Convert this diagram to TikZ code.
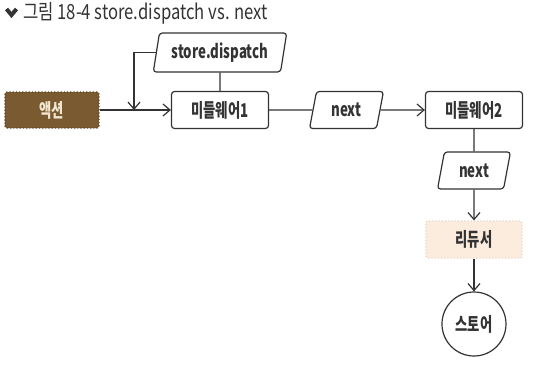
\documentclass[tikz,border=0pt]{standalone}
\usepackage{fontspec}
\setmainfont{Noto Sans CJK KR}[FakeStretch=0.8]
\newfontfamily\boxfam{Noto Sans CJK KR}[FakeStretch=0.7]
\usetikzlibrary{arrows.meta,shapes.geometric}
\definecolor{ink}{HTML}{333333}
\definecolor{actbrown}{HTML}{7A5A30}
\definecolor{actedge}{HTML}{5C421F}
\definecolor{actfont}{HTML}{F3E6D0}
\definecolor{redfill}{HTML}{FBECDE}
\definecolor{rededge}{HTML}{E8D5C0}
\newcommand{\boxfont}{\boxfam\fontsize{9.5}{11}\selectfont\bfseries}
\tikzset{
  box/.style={rectangle, rounded corners=1.5pt, draw=ink, line width=0.6pt, fill=white,
              minimum width=48.5pt, minimum height=18.5pt, inner sep=0pt, font=\boxfont, text=ink},
  actbox/.style={box, rounded corners=1pt, draw=actedge, densely dotted, fill=actbrown, text=actfont,
                 minimum width=47pt, minimum height=18pt},
  redbox/.style={box, rounded corners=1pt, draw=rededge, densely dotted, fill=redfill},
  para/.style={trapezium, trapezium left angle=76, trapezium right angle=104, trapezium stretches=true,
               rounded corners=1.5pt, draw=ink, line width=0.6pt, fill=white,
               minimum height=18.5pt, inner sep=0pt, font=\boxfont, text=ink},
  storenode/.style={circle, draw=ink, line width=0.6pt, minimum size=32pt, inner sep=0pt,
                    font=\boxfont, text=ink},
  link/.style={draw=ink, line width=0.6pt},
  arr/.style={link, -{Straight Barb[length=3.5pt,width=6pt]}},
}
\begin{document}
\begin{tikzpicture}[x=0.5pt,y=-0.5pt]
  \useasboundingbox (0,0) rectangle (538,365);
  \draw[ink, line width=2pt] (6.5,9) -- (11.5,15) -- (16.5,9);
  \node[anchor=west, inner sep=0pt, text=ink, font=\fontsize{10.4}{12}\selectfont] (title) at (23,13)
    {그림 18-4 store.dispatch vs. next};

  \node[actbox] (act) at (52,110) {액션};
  \node[box] (mw1) at (220,110) {미들웨어1};
  \node[para, minimum width=67pt, minimum height=19.5pt] (sd) at (220,52.5) {store.dispatch};
  \node[para, minimum width=37pt] (nx1) at (346.5,110) {next};
  \node[box] (mw2) at (474,110) {미들웨어2};
  \node[para, minimum width=36.5pt] (nx2) at (474,170.5) {next};
  \node[redbox, minimum width=48pt] (red) at (474,239.5) {리듀서};
  \node[storenode] (store) at (474,324) {스토어};

  \coordinate (join) at (134,110);
  \draw[arr] (act) -- (mw1);
  \draw[link] (sd) -- (mw1);
  \draw[arr] (sd.west) -| (join);
  \draw[link] (mw1) -- (nx1);
  \draw[arr] (nx1) -- (mw2);
  \draw[link] (mw2) -- (nx2);
  \draw[arr] (nx2) -- (red);
  \draw[arr] (red) -- (store);
\end{tikzpicture}
\end{document}
